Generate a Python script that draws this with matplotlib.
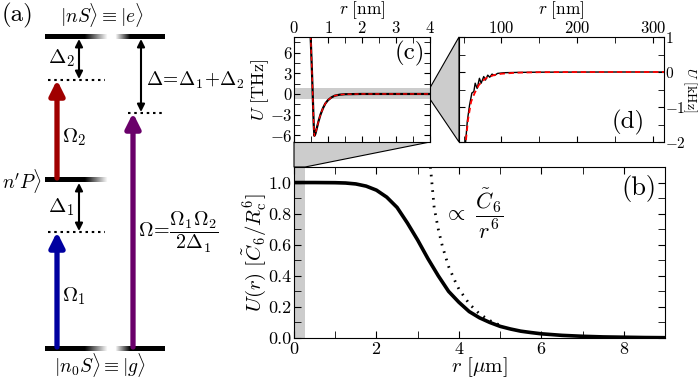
import numpy as np
import matplotlib
matplotlib.use('Agg')
import matplotlib.pyplot as plt
from matplotlib.patches import Polygon
from matplotlib.ticker import MultipleLocator, FormatStrFormatter

plt.rcParams['font.family'] = ['cmr10', 'DejaVu Serif']
plt.rcParams['mathtext.fontset'] = 'cm'
plt.rcParams['axes.unicode_minus'] = False
plt.rcParams['axes.formatter.use_mathtext'] = True
plt.rcParams['font.size'] = 11

# (b) soft-core potential, r in um, U in units of C6/Rc^6
r_b = [0, 0.5, 1.0, 1.25, 1.5, 1.75, 2.0, 2.25, 2.5, 2.75, 3.0, 3.25, 3.5, 3.75, 4.0,
       4.25, 4.5, 4.75, 5.0, 5.25, 5.5, 5.75, 6.0, 6.5, 7.0, 7.5, 8.0, 8.5, 9.0]
u_b = [1.0, 1.0, 0.999, 0.997, 0.991, 0.977, 0.951, 0.906, 0.84, 0.74, 0.63, 0.51,
       0.40, 0.30, 0.23, 0.17, 0.13, 0.10, 0.075, 0.058, 0.044, 0.035, 0.027, 0.017,
       0.011, 0.007, 0.005, 0.003, 0.002]
# (b) dotted C6/r^6 tail
r_vdw = [3.31, 3.4, 3.5, 3.6, 3.75, 3.9, 4.0, 4.25, 4.5, 4.75, 5.0]
u_vdw = [1.1, 0.84, 0.70, 0.59, 0.46, 0.37, 0.315, 0.22, 0.155, 0.112, 0.082]

# (c) short range potential, r in nm, U in THz
r_c = [0.48, 0.5, 0.53, 0.56, 0.58, 0.6, 0.63, 0.67, 0.72, 0.78, 0.85, 0.92, 1.0,
       1.1, 1.2, 1.35, 1.5, 2.0, 3.0, 4.0]
u_c = [9.5, 7.0, 3.0, -1.5, -4.5, -6.1, -5.8, -5.0, -4.0, -3.0, -2.1, -1.4, -0.9,
       -0.5, -0.25, -0.1, -0.04, 0.0, 0.0, 0.0]

# (d) long range potential, r in nm, U in kHz
r_d_num = [52.0, 55.0, 58.0, 61.0, 63.6, 65.4, 68.0, 71.0, 73.3, 76.7, 79.0, 82.0,
           84.6, 87.7, 90.7, 95.0, 104.0, 120.0, 150.0, 200.0, 250.0, 315.0]
u_d_num = [-2.2, -1.4, -0.94, -0.6, -0.56, -0.32, -0.47, -0.18, -0.32, -0.13, -0.23,
           -0.09, -0.15, -0.06, -0.1, -0.04, -0.02, -0.012, -0.005, -0.002, 0.0, 0.0]
r_d_fit = [52.0, 56.0, 58.0, 60.0, 64.5, 70.0, 75.0, 80.0, 90.0, 100.0, 120.0,
           150.0, 200.0, 315.0]
u_d_fit = [-2.2, -1.35, -1.1, -0.85, -0.61, -0.38, -0.26, -0.17, -0.09, -0.05,
           -0.02, -0.006, -0.001, 0.0]

fig = plt.figure(figsize=(6.98, 3.8), dpi=100)
W, H = 698.0, 380.0


def box(x0, y0, x1, y1):
    return [x0 / W, 1 - y1 / H, (x1 - x0) / W, (y1 - y0) / H]


ax_b = fig.add_axes(box(294, 167, 665, 338))
ax_c = fig.add_axes(box(294, 37, 430, 142))
ax_d = fig.add_axes(box(459, 37, 664, 142))
ax_a = fig.add_axes([0, 0, 230 / W, 1])

# ---- panel (b)
ax_b.axvspan(0, 0.27, color='#cccccc', lw=0)
ax_b.plot(r_b, u_b, color='k', lw=2.6, solid_joinstyle='round')
ax_b.plot(r_vdw, u_vdw, color='k', lw=2, ls=(0, (0.6, 2.2)))
ax_b.set_xlim(0, 9)
ax_b.set_ylim(0, 1.1)
ax_b.xaxis.set_major_locator(MultipleLocator(2))
ax_b.xaxis.set_minor_locator(MultipleLocator(1))
ax_b.yaxis.set_major_locator(MultipleLocator(0.2))
ax_b.yaxis.set_minor_locator(MultipleLocator(0.1))
ax_b.yaxis.set_major_formatter(FormatStrFormatter('%.1f'))
ax_b.tick_params(which='both', direction='in', top=True, right=True, pad=2, labelsize=13)
ax_b.tick_params(which='both', length=5)
ax_b.set_xlabel(r'$r\ [\mu{\rm m}]$', fontsize=15, labelpad=-1)
ax_b.set_ylabel(r'$U(r)\ [\tilde{C}_6/R_{\rm c}^6]$', fontsize=15, labelpad=-1)
ax_b.text(8.8, 0.96, '(b)', fontsize=19, ha='right', va='center')
ax_b.text(3.65, 0.8, r'$\propto\ \dfrac{\tilde{C}_6}{r^6}$', fontsize=16, ha='left', va='center')

# ---- panel (c)
ax_c.axhspan(-0.75, 0.9, color='#cccccc', lw=0)
ax_c.plot(r_c, u_c, color='k', lw=1.6)
ax_c.plot(r_c, u_c, color='red', lw=1.0, ls=(0, (3, 2)))
ax_c.set_xlim(0, 4)
ax_c.set_ylim(-7, 8.3)
ax_c.xaxis.set_major_locator(MultipleLocator(1))
ax_c.xaxis.set_minor_locator(MultipleLocator(0.5))
ax_c.set_yticks([-6, -3, 0, 3, 6])
ax_c.yaxis.set_minor_locator(MultipleLocator(1.5))
ax_c.tick_params(which='both', direction='in', top=True, bottom=True, right=True,
                 labeltop=True, labelbottom=False, pad=1, labelsize=12)
ax_c.tick_params(which='both', length=4)
ax_c.xaxis.set_label_position('top')
ax_c.set_xlabel(r'$r\ [\mathrm{nm}]$', fontsize=12.5, labelpad=4)
ax_c.set_ylabel(r'$U\ [\mathrm{THz}]$', fontsize=13, labelpad=-1)
ax_c.text(3.85, 5.9, '(c)', fontsize=18, ha='right', va='center')

# ---- panel (d)
ax_d.plot(r_d_num, u_d_num, color='k', lw=1.0)
ax_d.plot(r_d_fit, u_d_fit, color='red', lw=1.3, ls=(0, (3, 2)))
ax_d.set_xlim(44, 315)
ax_d.set_ylim(-2, 1)
ax_d.xaxis.set_major_locator(MultipleLocator(100))
ax_d.xaxis.set_minor_locator(MultipleLocator(50))
ax_d.yaxis.set_major_locator(MultipleLocator(1))
ax_d.yaxis.set_minor_locator(MultipleLocator(0.5))
ax_d.tick_params(which='both', direction='in', top=True, bottom=True, left=True, right=True,
                 labeltop=True, labelbottom=False, labelleft=False, labelright=True,
                 pad=1, labelsize=12, length=4)
ax_d.tick_params(axis='y', labelsize=11, pad=0.5)
ax_d.xaxis.set_label_position('top')
ax_d.set_xlabel(r'$r\ [\mathrm{nm}]$', fontsize=12.5, labelpad=4)
ax_d.text(1.124, 0.5, r'$U\ [\mathrm{kHz}]$', fontsize=10, rotation=270,
          ha='center', va='center', transform=ax_d.transAxes)
ax_d.text(290, -1.45, '(d)', fontsize=18, ha='right', va='center')

# ---- zoom connectors
inv = fig.transFigure.inverted()


def fpt(ax, x, y):
    return inv.transform(ax.transData.transform((x, y)))


poly1 = [fpt(ax_c, 4, 0.9), fpt(ax_d, 44, 1), fpt(ax_d, 44, -2), fpt(ax_c, 4, -0.75)]
poly2 = [fpt(ax_c, 0, -7), fpt(ax_c, 4, -7), fpt(ax_b, 0.27, 1.1), fpt(ax_b, 0, 1.1)]
for pts in (poly1, poly2):
    fig.add_artist(Polygon(pts, closed=True, transform=fig.transFigure,
                           facecolor='#cccccc', edgecolor='k', lw=0.8, zorder=0))

# ---- panel (a): level scheme (pixel coordinates)
ax_a.set_xlim(0, 230)
ax_a.set_ylim(380, 0)
ax_a.axis('off')

level_y = [37, 180, 349]          # |nS>, |n'P>, |n0S>
left_bar = (45, 108)
right_bar = (115, 165)
fade_left = np.concatenate([np.ones(40), np.linspace(1, 0, 24)])[None, :]
fade_right = np.concatenate([np.linspace(0, 1, 16), np.ones(35)])[None, :]
for i, y in enumerate(level_y):
    ax_a.imshow(fade_left, cmap='gray_r', vmin=0, vmax=1, aspect='auto',
                extent=(left_bar[0], left_bar[1], y + 2.5, y - 2.5), interpolation='bilinear')
    if i != 1:
        ax_a.imshow(fade_right, cmap='gray_r', vmin=0, vmax=1, aspect='auto',
                    extent=(right_bar[0], right_bar[1], y + 2.5, y - 2.5), interpolation='bilinear')

virt_left = [80, 232]             # dotted virtual levels (left column)
virt_right = 113                  # dotted level (right column)
for y in virt_left:
    ax_a.plot([48, 105], [y, y], color='k', ls=(0, (1.2, 1.8)), lw=1.5)
ax_a.plot([128, 165], [virt_right, virt_right], color='k', ls=(0, (1.2, 1.8)), lw=1.5)

big = dict(arrowstyle='-|>', lw=3.8, mutation_scale=22, shrinkA=0, shrinkB=0)
ax_a.annotate('', xy=(57, 80), xytext=(57, 178), arrowprops=dict(color='#a00000', **big))
ax_a.annotate('', xy=(57, 232), xytext=(57, 347), arrowprops=dict(color='#0000a0', **big))
ax_a.annotate('', xy=(133, 113), xytext=(133, 347), arrowprops=dict(color='#6a006a', **big))

dbl = dict(arrowstyle='<|-|>', lw=1.5, color='k', mutation_scale=11, shrinkA=0, shrinkB=0)
ax_a.annotate('', xy=(79, 39), xytext=(79, 79), arrowprops=dbl)
ax_a.annotate('', xy=(79, 183), xytext=(79, 231), arrowprops=dbl)
ax_a.annotate('', xy=(141, 39), xytext=(141, 112), arrowprops=dbl)

ax_a.text(2, 15, '(a)', fontsize=18, va='center', ha='left')
ax_a.text(102, 15, r'$|nS\rangle\equiv|e\rangle$', fontsize=14, va='center', ha='center')
ax_a.text(61, 58, r'$\Delta_2$', fontsize=15, va='center', ha='center')
ax_a.text(146, 80, r'$\Delta\!=\!\Delta_1\!+\!\Delta_2$', fontsize=14, va='center', ha='left')
ax_a.text(62, 137, r'$\Omega_2$', fontsize=15, va='center', ha='left')
ax_a.text(2, 181, r"$n'P\rangle$", fontsize=14, va='center', ha='left')
ax_a.text(61, 207, r'$\Delta_1$', fontsize=15, va='center', ha='center')
ax_a.text(138, 232, r'$\Omega\!=\!\dfrac{\Omega_1\Omega_2}{2\Delta_1}$', fontsize=14.5,
          va='center', ha='left')
ax_a.text(62, 296, r'$\Omega_1$', fontsize=15, va='center', ha='left')
ax_a.text(100, 365, r'$|n_0S\rangle\equiv|g\rangle$', fontsize=14, va='center', ha='center')

fig.savefig('out.png', dpi=100)
